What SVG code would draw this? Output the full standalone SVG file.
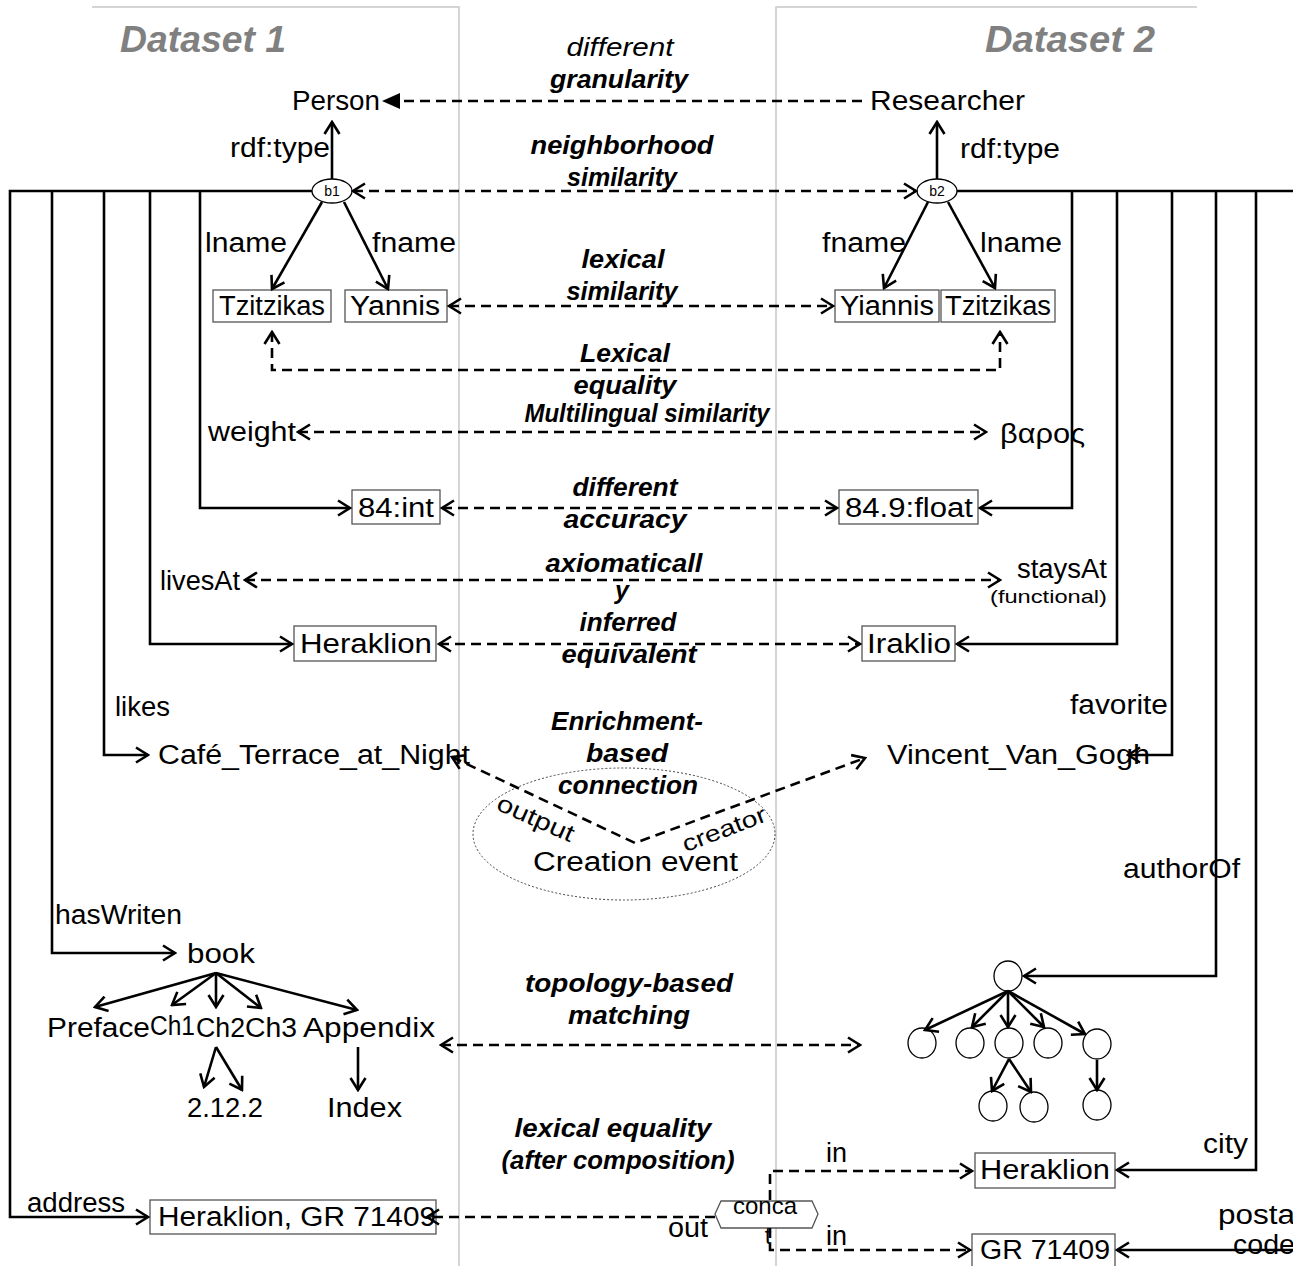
<svg xmlns="http://www.w3.org/2000/svg" width="1293" height="1266" viewBox="0 0 1293 1266">
<defs>
<style>
text{font-family:"Liberation Sans",Arial,sans-serif;fill:#000;dominant-baseline:central}
.t{font-size:27px}
.s{font-size:18px}
.m{font-size:25px;font-weight:bold;font-style:italic;text-anchor:middle}
.mi{font-size:25px;font-style:italic;text-anchor:middle}
.title{font-size:37px;font-weight:bold;font-style:italic;fill:#808080}
.panel{stroke:#c8c8c8;stroke-width:1.5;fill:none}
.sol{stroke:#000;stroke-width:2.6;fill:none}
.dash{stroke:#000;stroke-width:2.6;fill:none;stroke-dasharray:10 6}
.box{fill:#fff;stroke:#555;stroke-width:1.3}
.bn{fill:#fff;stroke:#000;stroke-width:1.3}
</style>
<marker id="a" viewBox="-1 -9 15 18" refX="12" refY="0" markerWidth="15" markerHeight="18" markerUnits="userSpaceOnUse" orient="auto-start-reverse">
<path d="M0,-7.5 L12,0 L0,7.5" fill="none" stroke="#000" stroke-width="2.6" stroke-dasharray="none"/>
</marker>
<marker id="tri" viewBox="0 -9 18 18" refX="17" refY="0" markerWidth="18" markerHeight="18" markerUnits="userSpaceOnUse" orient="auto">
<path d="M0,-8 L18,0 L0,8 z" fill="#000" stroke="none"/>
</marker>
</defs>
<rect width="1293" height="1266" fill="#fff"/>

<g id="panels">
<path class="panel" d="M92,7 H459 V1266"/>
<path class="panel" d="M1197,7 H776 V1266"/>
<text class="title" x="120" y="39" textLength="166" lengthAdjust="spacingAndGlyphs">Dataset 1</text>
<text class="title" x="985" y="39" textLength="170" lengthAdjust="spacingAndGlyphs">Dataset 2</text>
</g>

<g id="n-person"><text class="t" x="292" y="101" textLength="88" lengthAdjust="spacingAndGlyphs">Person</text></g>
<g id="n-researcher"><text class="t" x="870" y="101" textLength="155" lengthAdjust="spacingAndGlyphs">Researcher</text></g>
<g id="n-b1"><ellipse class="bn" cx="332" cy="191" rx="20" ry="12"/><text x="332" y="191" style="font-size:14px;text-anchor:middle">b1</text></g>
<g id="n-b2"><ellipse class="bn" cx="937" cy="191" rx="20" ry="12"/><text x="937" y="191" style="font-size:14px;text-anchor:middle">b2</text></g>
<g id="n-tzitzikas1"><rect class="box" x="213" y="290" width="118" height="32"/><text class="t" x="219" y="306" textLength="106" lengthAdjust="spacingAndGlyphs">Tzitzikas</text></g>
<g id="n-yannis"><rect class="box" x="345" y="290" width="102" height="32"/><text class="t" x="350" y="306" textLength="90" lengthAdjust="spacingAndGlyphs">Yannis</text></g>
<g id="n-yiannis"><rect class="box" x="835" y="290" width="104" height="32"/><text class="t" x="840" y="306" textLength="94" lengthAdjust="spacingAndGlyphs">Yiannis</text></g>
<g id="n-tzitzikas2"><rect class="box" x="941" y="290" width="114" height="32"/><text class="t" x="945" y="306" textLength="106" lengthAdjust="spacingAndGlyphs">Tzitzikas</text></g>
<g id="n-84int"><rect class="box" x="352" y="490" width="88" height="34"/><text class="t" x="358" y="508" textLength="76" lengthAdjust="spacingAndGlyphs">84:int</text></g>
<g id="n-849float"><rect class="box" x="839" y="490" width="139" height="34"/><text class="t" x="845" y="508" textLength="128" lengthAdjust="spacingAndGlyphs">84.9:float</text></g>
<g id="n-heraklion1"><rect class="box" x="294" y="626" width="142" height="35"/><text class="t" x="300" y="644" textLength="132" lengthAdjust="spacingAndGlyphs">Heraklion</text></g>
<g id="n-iraklio"><rect class="box" x="862" y="626" width="93" height="35"/><text class="t" x="867" y="644" textLength="84" lengthAdjust="spacingAndGlyphs">Iraklio</text></g>
<g id="n-cafe"><text class="t" x="158" y="755" textLength="312" lengthAdjust="spacingAndGlyphs">Café_Terrace_at_Night</text></g>
<g id="n-vangogh"><text class="t" x="887" y="755" textLength="263" lengthAdjust="spacingAndGlyphs">Vincent_Van_Gogh</text></g>
<g id="n-creation"><ellipse cx="624" cy="834" rx="151" ry="66" fill="none" stroke="#444" stroke-width="1" stroke-dasharray="2 2"/><text class="t" x="533" y="862" textLength="205" lengthAdjust="spacingAndGlyphs">Creation event</text></g>
<g id="n-book"><text class="t" x="187" y="954" textLength="68" lengthAdjust="spacingAndGlyphs">book</text></g>
<g id="n-preface"><text class="t" x="47" y="1028" textLength="103" lengthAdjust="spacingAndGlyphs">Preface</text></g>
<g id="n-ch1"><text class="t" x="150" y="1026" textLength="45" lengthAdjust="spacingAndGlyphs">Ch1</text></g>
<g id="n-ch2"><text class="t" x="196" y="1028" textLength="49" lengthAdjust="spacingAndGlyphs">Ch2</text></g>
<g id="n-ch3"><text class="t" x="245" y="1028" textLength="52" lengthAdjust="spacingAndGlyphs">Ch3</text></g>
<g id="n-appendix"><text class="t" x="303" y="1028" textLength="132" lengthAdjust="spacingAndGlyphs">Appendix</text></g>
<g id="n-21-22"><text class="t" x="187" y="1108" textLength="76" lengthAdjust="spacingAndGlyphs">2.12.2</text></g>
<g id="n-index"><text class="t" x="327" y="1108" textLength="75" lengthAdjust="spacingAndGlyphs">Index</text></g>
<g id="n-tree">
<ellipse class="bn" cx="1008" cy="976" rx="14" ry="15"/>
<ellipse class="bn" cx="922" cy="1043" rx="14" ry="15"/>
<ellipse class="bn" cx="970" cy="1043" rx="14" ry="15"/>
<ellipse class="bn" cx="1009" cy="1043" rx="14" ry="15"/>
<ellipse class="bn" cx="1048" cy="1043" rx="14" ry="15"/>
<ellipse class="bn" cx="1097" cy="1044" rx="14" ry="15"/>
<ellipse class="bn" cx="993" cy="1106" rx="14" ry="15"/>
<ellipse class="bn" cx="1034" cy="1107" rx="14" ry="15"/>
<ellipse class="bn" cx="1097" cy="1105" rx="14" ry="15"/>
</g>
<g id="n-heraklion2"><rect class="box" x="975" y="1153" width="140" height="35"/><text class="t" x="980" y="1170" textLength="130" lengthAdjust="spacingAndGlyphs">Heraklion</text></g>
<g id="n-gr71409"><rect class="box" x="972" y="1234" width="143" height="36"/><text class="t" x="980" y="1250" textLength="130" lengthAdjust="spacingAndGlyphs">GR 71409</text></g>
<g id="n-address"><rect class="box" x="150" y="1200" width="286" height="34"/><text class="t" x="158" y="1217" textLength="278" lengthAdjust="spacingAndGlyphs">Heraklion, GR 71409</text></g>
<g id="n-concat"><path d="M721,1201 H812 L818,1214 L812,1228 H721 L715,1214 Z" fill="#fff" stroke="#555" stroke-width="1.3"/><text x="765" y="1205" style="font-size:24px;text-anchor:middle">conca</text><text x="768" y="1235" style="font-size:24px;text-anchor:middle">t</text></g>

<g id="connectors">
<path class="sol" d="M332,179 V122" marker-end="url(#a)"/>
<path class="sol" d="M937,179 V122" marker-end="url(#a)"/>
<path class="sol" d="M322,202 L272,289" marker-end="url(#a)"/>
<path class="sol" d="M344,202 L388,289" marker-end="url(#a)"/>
<path class="sol" d="M928,202 L884,288" marker-end="url(#a)"/>
<path class="sol" d="M948,202 L995,288" marker-end="url(#a)"/>
<path class="sol" d="M312,191 H10 V1217 H148" marker-end="url(#a)"/>
<path class="sol" d="M52,191 V953 H175" marker-end="url(#a)"/>
<path class="sol" d="M104,191 V755 H148" marker-end="url(#a)"/>
<path class="sol" d="M150,191 V644 H292" marker-end="url(#a)"/>
<path class="sol" d="M200,191 V508 H350" marker-end="url(#a)"/>
<path class="sol" d="M957,191 H1300"/>
<path class="sol" d="M1072,191 V508 H980" marker-end="url(#a)"/>
<path class="sol" d="M1117,191 V644 H957" marker-end="url(#a)"/>
<path class="sol" d="M1172,191 V755 H1128" marker-end="url(#a)"/>
<path class="sol" d="M1216,191 V976 H1024" marker-end="url(#a)"/>
<path class="sol" d="M1256,191 V1170 H1117" marker-end="url(#a)"/>
<path class="sol" d="M1300,191 V1250 H1117" marker-end="url(#a)"/>
<path class="sol" d="M216,973 L95,1007" marker-end="url(#a)"/>
<path class="sol" d="M216,973 L172,1005" marker-end="url(#a)"/>
<path class="sol" d="M216,973 L216,1007" marker-end="url(#a)"/>
<path class="sol" d="M216,973 L261,1008" marker-end="url(#a)"/>
<path class="sol" d="M216,973 L357,1010" marker-end="url(#a)"/>
<path class="sol" d="M216,1047 L204,1087" marker-end="url(#a)"/>
<path class="sol" d="M216,1047 L242,1090" marker-end="url(#a)"/>
<path class="sol" d="M358,1047 L358,1090" marker-end="url(#a)"/>
<path class="sol" d="M1008,991 L925,1030" marker-end="url(#a)"/>
<path class="sol" d="M1008,991 L972,1027" marker-end="url(#a)"/>
<path class="sol" d="M1008,991 L1008,1027" marker-end="url(#a)"/>
<path class="sol" d="M1008,991 L1044,1027" marker-end="url(#a)"/>
<path class="sol" d="M1008,991 L1085,1034" marker-end="url(#a)"/>
<path class="sol" d="M1009,1059 L992,1091" marker-end="url(#a)"/>
<path class="sol" d="M1009,1059 L1031,1092" marker-end="url(#a)"/>
<path class="sol" d="M1097,1060 L1097,1090" marker-end="url(#a)"/>
<path class="dash" d="M862,101 H383" marker-end="url(#tri)"/>
<path class="dash" d="M353,191 H916" marker-start="url(#a)" marker-end="url(#a)"/>
<path class="dash" d="M449,306 H833" marker-start="url(#a)" marker-end="url(#a)"/>
<path class="dash" d="M272,332 V370 H1000 V332" marker-start="url(#a)" marker-end="url(#a)"/>
<path class="dash" d="M298,432 H986" marker-start="url(#a)" marker-end="url(#a)"/>
<path class="dash" d="M442,508 H837" marker-start="url(#a)" marker-end="url(#a)"/>
<path class="dash" d="M245,580 H1000" marker-start="url(#a)" marker-end="url(#a)"/>
<path class="dash" d="M439,644 H860" marker-start="url(#a)" marker-end="url(#a)"/>
<path class="dash" d="M452,757 L635,843 L865,758" marker-start="url(#a)" marker-end="url(#a)"/>
<path class="dash" d="M441,1045 H860" marker-start="url(#a)" marker-end="url(#a)"/>
<path class="dash" d="M715,1217 H427" marker-end="url(#a)"/>
<path class="dash" d="M770,1200 V1171 H972" marker-end="url(#a)"/>
<path class="dash" d="M770,1228 V1250 H970" marker-end="url(#a)"/>
</g>

<g id="labels">
<text class="mi" x="620" y="47" textLength="107" lengthAdjust="spacingAndGlyphs">different</text>
<text class="m" x="619" y="79" textLength="138" lengthAdjust="spacingAndGlyphs">granularity</text>
<text class="m" x="622" y="145" textLength="183" lengthAdjust="spacingAndGlyphs">neighborhood</text>
<text class="m" x="622" y="177" textLength="110" lengthAdjust="spacingAndGlyphs">similarity</text>
<text class="m" x="623" y="259" textLength="83" lengthAdjust="spacingAndGlyphs">lexical</text>
<text class="m" x="622" y="291" textLength="111" lengthAdjust="spacingAndGlyphs">similarity</text>
<text class="m" x="625" y="353" textLength="90" lengthAdjust="spacingAndGlyphs">Lexical</text>
<text class="m" x="625" y="385" textLength="103" lengthAdjust="spacingAndGlyphs">equality</text>
<text class="m" x="647" y="413" textLength="245" lengthAdjust="spacingAndGlyphs">Multilingual similarity</text>
<text class="m" x="625" y="487" textLength="105" lengthAdjust="spacingAndGlyphs">different</text>
<text class="m" x="625" y="519" textLength="123" lengthAdjust="spacingAndGlyphs">accuracy</text>
<text class="m" x="624" y="563" textLength="157" lengthAdjust="spacingAndGlyphs">axiomaticall</text>
<text class="m" x="622" y="590">y</text>
<text class="m" x="628" y="622" textLength="97" lengthAdjust="spacingAndGlyphs">inferred</text>
<text class="m" x="629" y="654" textLength="135" lengthAdjust="spacingAndGlyphs">equivalent</text>
<text class="m" x="627" y="721" textLength="152" lengthAdjust="spacingAndGlyphs">Enrichment-</text>
<text class="m" x="627" y="753" textLength="82" lengthAdjust="spacingAndGlyphs">based</text>
<text class="m" x="628" y="785" textLength="140" lengthAdjust="spacingAndGlyphs">connection</text>
<text class="m" x="629" y="983" textLength="208" lengthAdjust="spacingAndGlyphs">topology-based</text>
<text class="m" x="629" y="1015" textLength="122" lengthAdjust="spacingAndGlyphs">matching</text>
<text class="m" x="613" y="1128" textLength="197" lengthAdjust="spacingAndGlyphs">lexical equality</text>
<text class="m" x="618" y="1160" textLength="233" lengthAdjust="spacingAndGlyphs">(after composition)</text>
<text class="t" x="230" y="148" textLength="100" lengthAdjust="spacingAndGlyphs">rdf:type</text>
<text class="t" x="960" y="149" textLength="100" lengthAdjust="spacingAndGlyphs">rdf:type</text>
<text class="t" x="205" y="243" textLength="82" lengthAdjust="spacingAndGlyphs">lname</text>
<text class="t" x="372" y="243" textLength="84" lengthAdjust="spacingAndGlyphs">fname</text>
<text class="t" x="822" y="243" textLength="84" lengthAdjust="spacingAndGlyphs">fname</text>
<text class="t" x="980" y="243" textLength="82" lengthAdjust="spacingAndGlyphs">lname</text>
<text class="t" x="208" y="432" textLength="88" lengthAdjust="spacingAndGlyphs">weight</text>
<text class="t" x="1000" y="434" textLength="85" lengthAdjust="spacingAndGlyphs">βαρος</text>
<text class="t" x="160" y="581" textLength="80" lengthAdjust="spacingAndGlyphs">livesAt</text>
<text class="t" x="1017" y="569" textLength="90" lengthAdjust="spacingAndGlyphs">staysAt</text>
<text class="s" x="990" y="597" textLength="117" lengthAdjust="spacingAndGlyphs">(functional)</text>
<text class="t" x="115" y="707" textLength="55" lengthAdjust="spacingAndGlyphs">likes</text>
<text class="t" x="1070" y="705" textLength="98" lengthAdjust="spacingAndGlyphs">favorite</text>
<text class="t" x="1123" y="869" textLength="117" lengthAdjust="spacingAndGlyphs">authorOf</text>
<text class="t" x="55" y="915" textLength="127" lengthAdjust="spacingAndGlyphs">hasWriten</text>
<text class="t" x="826" y="1153">in</text>
<text class="t" x="1203" y="1144" textLength="45" lengthAdjust="spacingAndGlyphs">city</text>
<text class="t" x="27" y="1203" textLength="98" lengthAdjust="spacingAndGlyphs">address</text>
<text class="t" x="668" y="1228" textLength="40" lengthAdjust="spacingAndGlyphs">out</text>
<text class="t" x="826" y="1236">in</text>
<text class="t" x="1218" y="1215" textLength="84" lengthAdjust="spacingAndGlyphs">postal</text>
<text class="t" x="1233" y="1245" textLength="62" lengthAdjust="spacingAndGlyphs">code</text>
<text x="0" y="0" transform="translate(536,818) rotate(24)" style="font-size:24px;text-anchor:middle" textLength="82" lengthAdjust="spacingAndGlyphs">output</text>
<text x="0" y="0" transform="translate(724,829) rotate(-21)" style="font-size:23px;text-anchor:middle" textLength="88" lengthAdjust="spacingAndGlyphs">creator</text>
</g>
</svg>
